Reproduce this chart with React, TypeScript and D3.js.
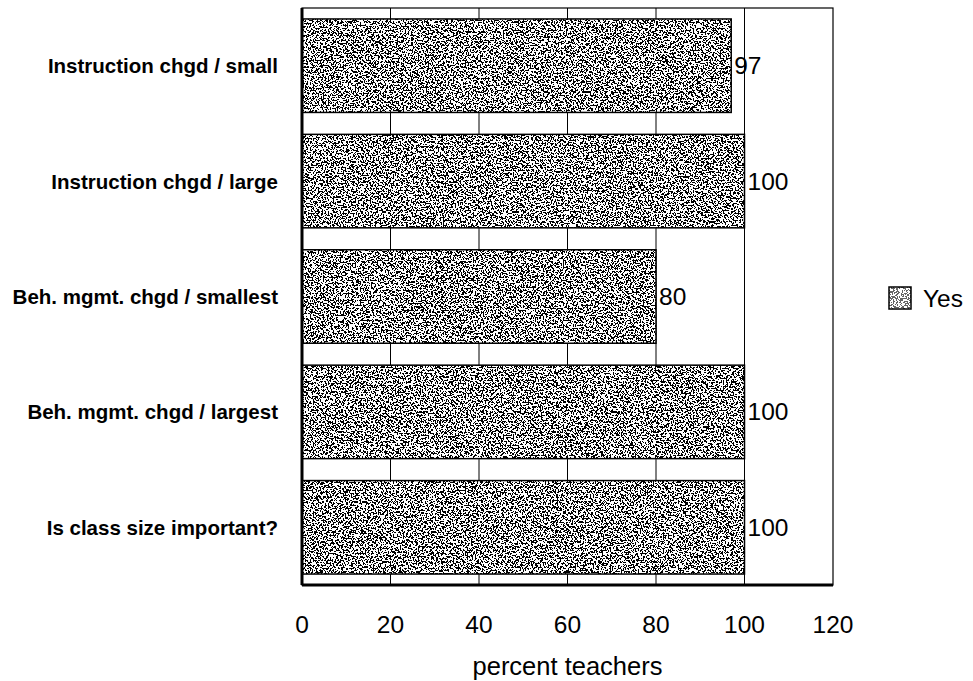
import React from "react";
import * as d3 from "d3";

const categories = [
  "Instruction chgd / small",
  "Instruction chgd / large",
  "Beh. mgmt. chgd / smallest",
  "Beh. mgmt. chgd / largest",
  "Is class size important?",
];
const yesValues = [97, 100, 80, 100, 100];
const xTicks = [0, 20, 40, 60, 80, 100, 120];
const seriesName = "Yes";
const axisTitle = "percent teachers";

const W = 973;
const H = 681;
const plot = { left: 302, right: 833, top: 8, bottom: 585 };

export default function App() {
  const x = d3.scaleLinear().domain([0, 120]).range([plot.left, plot.right]);
  const y = d3
    .scaleBand<string>()
    .domain(categories)
    .range([plot.top, plot.bottom])
    .paddingInner(0.19)
    .paddingOuter(0.095);
  const font = "Arial, 'Liberation Sans', sans-serif";
  const thr = "0 0 0 0 0 0 0 0 0 0 0 0 1 1 1 1 1 1 1 1 1 1 1 1 1";
  return (
    <svg
      width={W}
      height={H}
      style={{ position: "absolute", left: 0, top: 0, background: "#fff" }}
    >
      <defs>
        <filter
          id="speckle"
          x="0"
          y="0"
          width="100%"
          height="100%"
          colorInterpolationFilters="sRGB"
        >
          <feTurbulence
            type="fractalNoise"
            baseFrequency="0.6"
            numOctaves="2"
            seed="7"
            result="n"
          />
          <feColorMatrix
            in="n"
            type="matrix"
            values="1 0 0 0 0  1 0 0 0 0  1 0 0 0 0  0 0 0 0 1"
            result="g"
          />
          <feComponentTransfer in="g" result="t">
            <feFuncR type="discrete" tableValues={thr} />
            <feFuncG type="discrete" tableValues={thr} />
            <feFuncB type="discrete" tableValues={thr} />
          </feComponentTransfer>
          <feComposite in="t" in2="SourceGraphic" operator="in" />
        </filter>
      </defs>
      {/* plot border */}
      <rect
        x={plot.left}
        y={plot.top}
        width={plot.right - plot.left}
        height={plot.bottom - plot.top}
        fill="#fff"
        stroke="#000"
        strokeWidth={1.2}
      />
      {/* gridlines */}
      {xTicks
        .filter((t) => t > 0 && t < 120)
        .map((t) => (
          <line
            key={t}
            x1={x(t)}
            x2={x(t)}
            y1={plot.top}
            y2={plot.bottom}
            stroke="#000"
            strokeWidth={1}
          />
        ))}
      {/* bars */}
      {categories.map((c, i) => {
        const y0 = y(c) as number;
        const cy = y0 + y.bandwidth() / 2;
        const w = x(yesValues[i]) - x(0);
        return (
          <g key={c}>
            <rect x={x(0)} y={y0} width={w} height={y.bandwidth()} fill="#fff" />
            <rect
              x={x(0)}
              y={y0}
              width={w}
              height={y.bandwidth()}
              fill="#000"
              filter="url(#speckle)"
            />
            <rect
              x={x(0)}
              y={y0}
              width={w}
              height={y.bandwidth()}
              fill="none"
              stroke="#000"
              strokeWidth={1.5}
            />
            <text
              x={x(yesValues[i]) + 3}
              y={cy + 8.5}
              fontFamily={font}
              fontSize={24.5}
            >
              {yesValues[i]}
            </text>
            <text
              x={278}
              y={cy + 7.5}
              textAnchor="end"
              fontFamily={font}
              fontWeight="bold"
              fontSize={20.5}
            >
              {c}
            </text>
          </g>
        );
      })}
      {/* thick axes */}
      <line
        x1={plot.left}
        x2={plot.left}
        y1={plot.top}
        y2={plot.bottom}
        stroke="#000"
        strokeWidth={3}
      />
      <line
        x1={plot.left}
        x2={plot.right}
        y1={plot.bottom}
        y2={plot.bottom}
        stroke="#000"
        strokeWidth={3}
      />
      {/* tick labels */}
      {xTicks.map((t) => (
        <text
          key={t}
          x={x(t)}
          y={633}
          textAnchor="middle"
          fontFamily={font}
          fontSize={24.5}
        >
          {t}
        </text>
      ))}
      <text
        x={(x(0) + x(120)) / 2}
        y={675}
        textAnchor="middle"
        fontFamily={font}
        fontSize={25.5}
      >
        {axisTitle}
      </text>
      {/* legend */}
      <rect x={889} y={287} width={22} height={22} fill="#fff" />
      <rect x={889} y={287} width={22} height={22} fill="#000" filter="url(#speckle)" opacity={0.6} />
      <rect x={889} y={287} width={22} height={22} fill="none" stroke="#000" strokeWidth={1.5} />
      <text x={923} y={307} fontFamily={font} fontSize={24.5}>
        {seriesName}
      </text>
    </svg>
  );
}
